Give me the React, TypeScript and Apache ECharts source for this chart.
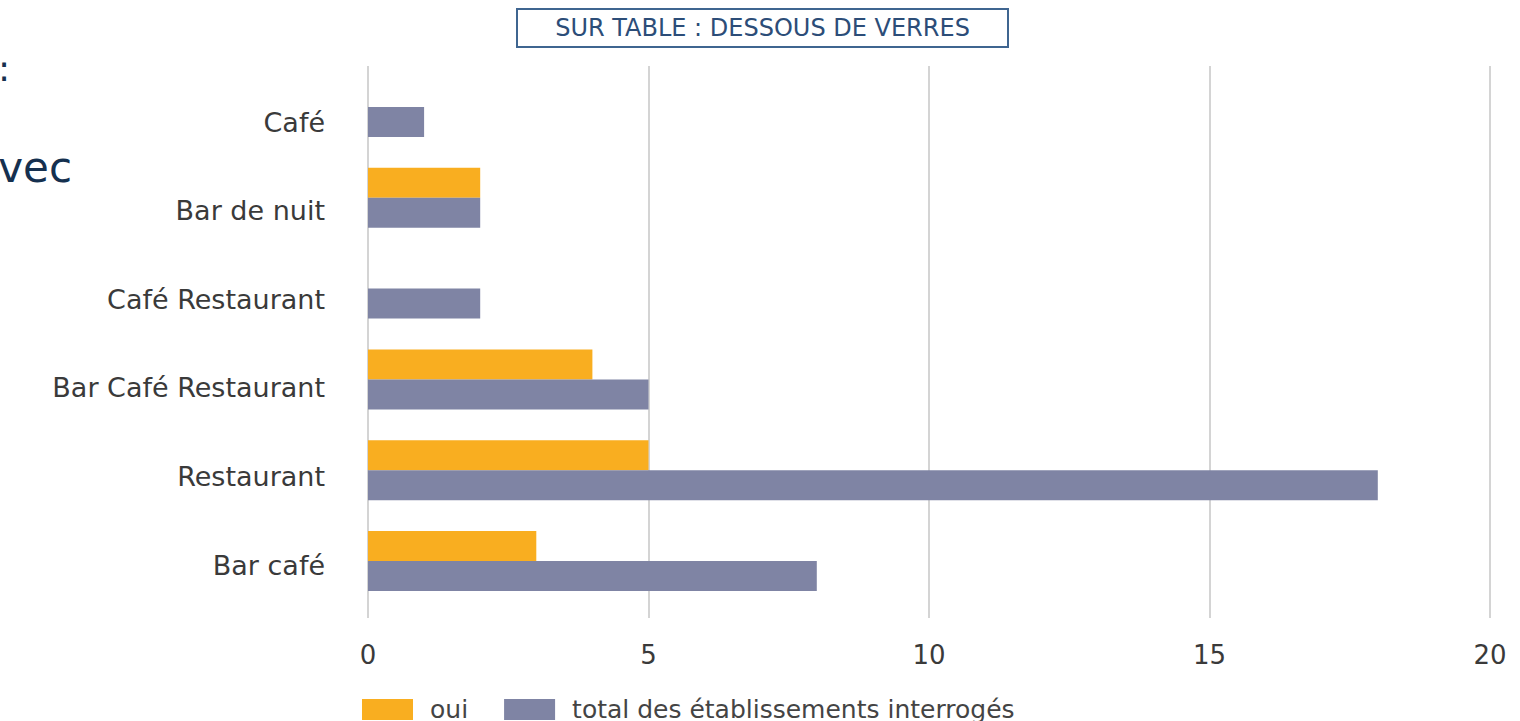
import React, { useEffect, useRef } from "react";
import * as echarts from "echarts";

const categories = ["Café", "Bar de nuit", "Café Restaurant", "Bar Café Restaurant", "Restaurant", "Bar café"];
const ouiValues = [0, 2, 0, 4, 5, 3];
const totalValues = [1, 2, 2, 5, 18, 8];
const seriesNames = ["oui", "total des établissements interrogés"];
const xMin = 0;
const xMax = 20;
const xInterval = 5;
const titleText = "SUR TABLE : DESSOUS DE VERRES";

const FONT = "'DejaVu Sans', sans-serif";

export default function App() {
  const ref = useRef<HTMLDivElement>(null);
  useEffect(() => {
    if (!ref.current) return;
    const chart = echarts.init(ref.current, null, { renderer: "svg" });
    chart.setOption({
      animation: false,
      backgroundColor: "#ffffff",
      textStyle: { fontFamily: FONT },
      legend: {
        left: 362,
        top: 697,
        padding: 0,
        itemWidth: 51,
        itemHeight: 21,
        itemGap: 36,
        icon: "rect",
        textStyle: { fontSize: 25, color: "#444", fontFamily: FONT, padding: [0, 0, 0, 12] },
        data: seriesNames,
      },
      grid: [
        { left: 368, right: 30, top: 61.6, height: 544.8 },
        { left: 368, right: 30, top: 66, height: 552 },
        { left: 368, right: 30, top: 77.7, height: 531.6 },
      ],
      xAxis: [
        { type: "value", gridIndex: 0, min: xMin, max: xMax, interval: xInterval, show: false },
        {
          type: "value",
          gridIndex: 1,
          min: xMin,
          max: xMax,
          interval: xInterval,
          axisLine: { show: false },
          axisTick: { show: false },
          splitLine: { show: true, lineStyle: { color: "#d4d4d4", width: 2 } },
          axisLabel: { fontSize: 26, color: "#3a3a3a", margin: 24, fontFamily: FONT },
        },
        { type: "value", gridIndex: 2, min: xMin, max: xMax, show: false },
      ],
      yAxis: [
        { type: "category", gridIndex: 0, inverse: true, data: categories, show: false },
        { type: "category", gridIndex: 1, inverse: true, data: categories, show: false },
        {
          type: "category",
          gridIndex: 2,
          inverse: true,
          data: categories,
          axisLine: { show: false },
          axisTick: { show: false },
          splitLine: { show: false },
          axisLabel: { fontSize: 27, color: "#3a3a3a", margin: 43, fontFamily: FONT },
        },
      ],
      series: [
        {
          name: seriesNames[0],
          type: "bar",
          xAxisIndex: 0,
          yAxisIndex: 0,
          data: ouiValues,
          barWidth: 30,
          barGap: "0%",
          itemStyle: { color: "#F9AE20" },
        },
        {
          name: seriesNames[1],
          type: "bar",
          xAxisIndex: 0,
          yAxisIndex: 0,
          data: totalValues,
          barWidth: 30,
          barGap: "0%",
          itemStyle: { color: "#7F84A4" },
        },
      ],
      graphic: [
        {
          type: "rect",
          shape: { x: 517, y: 9, width: 491, height: 38 },
          style: { fill: "#ffffff", stroke: "#3f6590", lineWidth: 2 },
        },
        {
          type: "text",
          x: 762.5,
          y: 28,
          style: {
            text: titleText,
            fill: "#2c4d78",
            font: `500 24px ${FONT}`,
            textAlign: "center",
            textVerticalAlign: "middle",
          },
        },
        {
          type: "text",
          x: 4,
          y: 68,
          style: { text: ":", fill: "#15304f", font: `36px ${FONT}`, textAlign: "center", textVerticalAlign: "middle" },
        },
        {
          type: "text",
          x: 72,
          y: 167,
          style: { text: "vec", fill: "#15304f", font: `42px ${FONT}`, textAlign: "right", textVerticalAlign: "middle" },
        },
      ],
    });
    return () => chart.dispose();
  }, []);
  return <div ref={ref} style={{ position: "fixed", left: 0, top: 0, width: 1520, height: 721 }} />;
}
